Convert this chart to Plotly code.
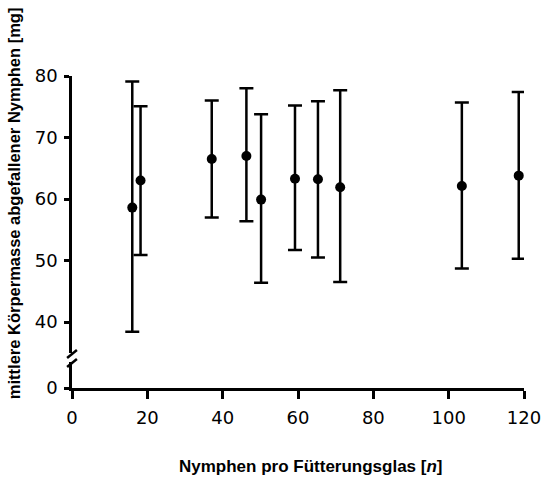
import plotly.graph_objects as go

# Data
nymphs_per_glass = [16.0, 18.2, 37.1, 46.3, 50.2, 59.2, 65.3, 71.2, 103.5, 118.6]
mean_mass = [58.6, 63.0, 66.5, 67.0, 59.9, 63.3, 63.2, 61.9, 62.1, 63.8]
upper_mass = [79.1, 75.1, 76.0, 78.0, 73.8, 75.2, 75.9, 77.7, 75.7, 77.4]
lower_mass = [38.4, 50.9, 57.0, 56.4, 46.4, 51.7, 50.5, 46.5, 48.7, 50.3]

x_ticks = [0, 20, 40, 60, 80, 100, 120]
y_ticks_top = [40, 50, 60, 70, 80]
y_ticks_bottom = [0]

err_plus = [u - m for u, m in zip(upper_mass, mean_mass)]
err_minus = [m - l for m, l in zip(mean_mass, lower_mass)]

W, H = 553, 478
L, R, T, B = 72, 20, 76, 90
pw, ph = W - L - R, H - T - B
px_per_unit = 6.15


def py(p):  # pixel y -> paper
    return (H - B - p) / ph


def pxx(p):  # pixel x -> paper
    return (p - L) / pw


top_break_px = 353
bot_break_px = 362

fig = go.Figure()
fig.add_trace(go.Scatter(
    x=nymphs_per_glass, y=mean_mass, mode="markers",
    marker=dict(color="black", size=10, symbol="circle"),
    error_y=dict(type="data", symmetric=False, array=err_plus, arrayminus=err_minus,
                 color="black", thickness=2.5, width=7),
    xaxis="x", yaxis="y", showlegend=False, cliponaxis=False,
))
fig.add_trace(go.Scatter(x=[], y=[], xaxis="x", yaxis="y2", showlegend=False))

tick_font = dict(family="DejaVu Sans", size=18, color="black")

fig.update_layout(
    width=W, height=H,
    margin=dict(l=L, r=R, t=T, b=B),
    paper_bgcolor="white", plot_bgcolor="white",
    xaxis=dict(range=[0, 120], tickvals=x_ticks, anchor="y2",
               showline=True, linecolor="black", linewidth=2.5,
               ticks="outside", ticklen=8, tickwidth=2.5, tickcolor="black",
               tickfont=tick_font, showgrid=False, zeroline=False,
               ticklabelstandoff=4),
    yaxis=dict(range=[80 - (top_break_px - T) / px_per_unit, 80],
               domain=[py(top_break_px), 1], anchor="x",
               tickvals=y_ticks_top, showline=True, linecolor="black", linewidth=2.5,
               ticks="outside", ticklen=5, tickwidth=2.5, tickcolor="black",
               tickfont=tick_font, showgrid=False, zeroline=False,
               ticklabelstandoff=3),
    yaxis2=dict(range=[0, (H - B - bot_break_px) / px_per_unit],
                domain=[0, py(bot_break_px)], anchor="x",
                tickvals=y_ticks_bottom, showline=True, linecolor="black", linewidth=2.5,
                ticks="outside", ticklen=5, tickwidth=2.5, tickcolor="black",
                tickfont=tick_font, showgrid=False, zeroline=False,
                ticklabelstandoff=3),
)

# axis break marks
for yc in (top_break_px + 1, bot_break_px + 1):
    fig.add_shape(type="line", xref="paper", yref="paper",
                  x0=pxx(L - 5), y0=py(yc + 4), x1=pxx(L + 5), y1=py(yc - 4),
                  line=dict(color="black", width=2.5))

fig.add_annotation(
    text="Nymphen pro Fütterungsglas [<i>n</i>]", xref="paper", yref="paper",
    x=pxx(316), y=py(466), xanchor="center", yanchor="middle", showarrow=False,
    font=dict(family="Liberation Sans, Arial", size=17, color="black", weight="bold"),
)
fig.add_annotation(
    text="mittlere Körpermasse abgefallener Nymphen [mg]", xref="paper", yref="paper",
    x=pxx(13), y=py(203), xanchor="center", yanchor="middle", showarrow=False,
    textangle=-90,
    font=dict(family="Liberation Sans, Arial", size=16.5, color="black", weight="bold"),
)

fig.write_html("out.html")
